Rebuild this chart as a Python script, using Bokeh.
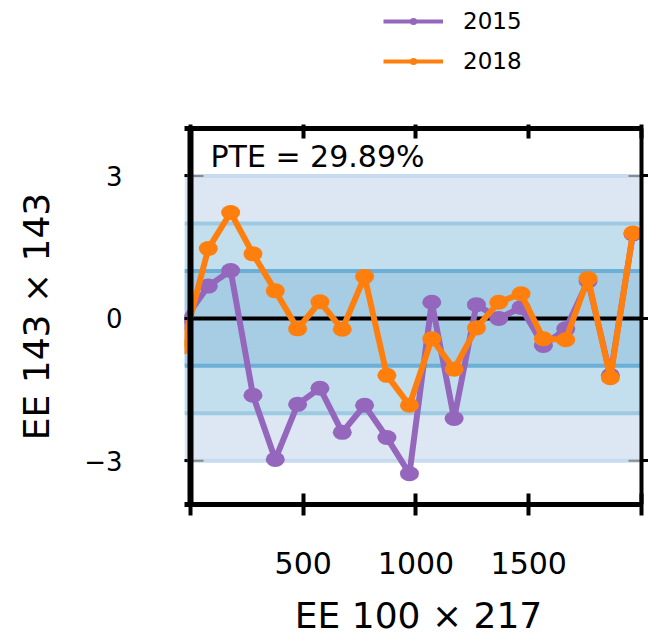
from bokeh.plotting import figure
from bokeh.layouts import column
from bokeh.models import (Range1d, LinearAxis, FixedTicker, Span, BoxAnnotation,
                          Label, Legend, LegendItem)
from bokeh.embed import file_html
from bokeh.resources import INLINE

# Binned multipoles and normalised residuals for the two releases
ell_bins = [-35, 79, 178, 277, 376, 475, 574, 673, 772, 871, 971,
            1070, 1169, 1268, 1367, 1466, 1565, 1664, 1763, 1862, 1962]
resid_2015 = [-0.08, 0.68, 1.01, -1.62, -2.97, -1.81, -1.47, -2.40, -1.83, -2.51, -3.27,
              0.34, -2.11, 0.29, 0.00, 0.23, -0.57, -0.22, 0.79, -1.20, 1.78]
resid_2018 = [-0.60, 1.47, 2.23, 1.36, 0.58, -0.22, 0.35, -0.23, 0.88, -1.20, -1.83,
              -0.43, -1.07, -0.20, 0.34, 0.52, -0.43, -0.45, 0.84, -1.25, 1.80]

series_names = ["2015", "2018"]
x_ticks = [0, 500, 1000, 1500, 2000]
x_tick_labels = {0: "", 500: "500", 1000: "1000", 1500: "1500", 2000: ""}
y_ticks = [-3, 0, 3]
y_tick_labels = {-3: "\u22123", 0: "0", 3: "3"}
sigma_levels = [3, 2, 1]
x_title = "EE 100 \u00d7 217"
y_title = "EE 143 \u00d7 143"
pte_text = "PTE = 29.89%"

PURPLE = "#9467bd"
ORANGE = "#ff7f0e"
BAND_FILL = {3: "#dce7f3", 2: "#c3dfee", 1: "#a6cde4"}
BAND_EDGE = {3: "#c6dbef", 2: "#9ecae1", 1: "#6baed6"}
FONT = "DejaVu Sans"

# page geometry (pixels): legend strip, main panel, x-title strip
W, H = 648, 636
LEG_H = 80
TITLE_H = 40
MAIN_H = H - LEG_H - TITLE_H
FL, FR, FT, FB = 184, 641, 128 - LEG_H, 504 - LEG_H   # frame edges in the main panel

x_range = Range1d(-26.6, 2000)
y_range = Range1d(-3.92, 4.0)
px_x = (FR - FL) / (x_range.end - x_range.start)
px_y = (FB - FT) / (y_range.end - y_range.start)


def data_x(sx):
    return x_range.start + (sx - FL) / px_x


def data_y(sy):
    return y_range.end - (sy - FT) / px_y


def strip(height):
    """Axis-free figure (screen-pixel coordinates) for the legend and the bottom title."""
    f = figure(width=W, height=height, x_range=Range1d(FL, FR), y_range=Range1d(0, height),
               output_backend="svg", toolbar_location=None,
               x_axis_location=None, y_axis_location=None,
               min_border_left=FL, min_border_right=W - FR,
               min_border_top=0, min_border_bottom=0)
    f.outline_line_color = None
    f.grid.visible = False
    return f


p = figure(width=W, height=MAIN_H, x_range=x_range, y_range=y_range,
           output_backend="svg", toolbar_location=None,
           min_border_left=FL, min_border_right=W - FR,
           min_border_top=FT, min_border_bottom=MAIN_H - FB)
p.outline_line_color = None
p.grid.visible = False
p.background_fill_color = "white"

# 1/2/3 sigma bands and their edges
for lvl in sigma_levels:
    p.add_layout(BoxAnnotation(bottom=-lvl, top=lvl, fill_color=BAND_FILL[lvl],
                               fill_alpha=1, line_color=None, level="underlay"))
for lvl in sigma_levels:
    for sign in (-1, 1):
        p.add_layout(Span(location=sign * lvl, dimension="width",
                          line_color=BAND_EDGE[lvl], line_width=4, level="underlay"))
p.add_layout(Span(location=0, dimension="width", line_color="black",
                  line_width=4, level="underlay"))

# short grey marks at the outer band edges
edge = [t for t in y_ticks if t != 0]
p.segment(x0=[x_range.start] * len(edge) + [data_x(628)] * len(edge),
          x1=[data_x(203)] * len(edge) + [x_range.end] * len(edge),
          y0=edge + edge, y1=edge + edge, line_color="#8a8a8a", line_width=2)

# residual curves
for vals, color in ((resid_2015, PURPLE), (resid_2018, ORANGE)):
    p.line(ell_bins, vals, line_color=color, line_width=6, line_join="round")
    p.ellipse(ell_bins, vals, width=19, height=15, width_units="screen",
              height_units="screen", fill_color=color, line_color=None)

# left spine at ell = 0
p.add_layout(Span(location=0, dimension="height", line_color="black", line_width=6))

# bottom axis
xa = p.xaxis[0]
xa.ticker = FixedTicker(ticks=x_ticks)
xa.major_label_overrides = x_tick_labels
xa.axis_line_width = 5
xa.major_tick_line_width = 4
xa.major_tick_in = 11
xa.major_tick_out = 11
xa.minor_tick_line_color = None
xa.major_label_text_font = FONT
xa.major_label_text_font_size = "30px"
xa.major_label_text_color = "black"
xa.major_label_standoff = 36

# left axis (spine drawn separately)
ya = p.yaxis[0]
ya.ticker = FixedTicker(ticks=y_ticks)
ya.major_label_overrides = y_tick_labels
ya.axis_line_color = None
ya.major_tick_in = 3
ya.major_tick_out = 0
ya.major_tick_line_width = 3
ya.minor_tick_line_color = None
ya.major_label_text_font = FONT
ya.major_label_text_font_size = "26px"
ya.major_label_text_color = "black"
ya.major_label_standoff = 62
ya.axis_label = y_title
ya.axis_label_text_font = FONT
ya.axis_label_text_font_size = "36px"
ya.axis_label_text_font_style = "normal"
ya.axis_label_text_color = "black"
ya.axis_label_standoff = 24

# right and top frame axes without labels
ra = LinearAxis(ticker=FixedTicker(ticks=y_ticks),
                major_label_overrides={t: "" for t in y_ticks},
                axis_line_width=4, major_tick_in=0, major_tick_out=7,
                major_tick_line_width=3, minor_tick_line_color=None,
                major_label_standoff=0, major_label_text_font_size="0px")
p.add_layout(ra, "right")
ta = LinearAxis(ticker=FixedTicker(ticks=x_ticks),
                major_label_overrides={t: "" for t in x_ticks},
                axis_line_width=5, major_tick_in=10, major_tick_out=4,
                major_tick_line_width=4, minor_tick_line_color=None,
                major_label_standoff=0, major_label_text_font_size="0px")
p.add_layout(ta, "above")

# PTE annotation
p.add_layout(Label(x=data_x(210), y=data_y(156 - LEG_H), text=pte_text, text_align="left",
                   text_baseline="middle", text_font=FONT, text_font_size="30px",
                   text_color="black"))

# legend strip: thin line with a small dot per release
lg = strip(LEG_H)
items = []
for name, color in zip(series_names, (PURPLE, ORANGE)):
    lr = lg.line([FL], [0], line_color=color, line_width=4, visible=False)
    sr = lg.scatter([FL], [0], size=7, fill_color=color, line_color=None, visible=False)
    items.append(LegendItem(label=name, renderers=[lr, sr]))
legend = Legend(items=items, location=(383 - FL, 6), orientation="vertical",
                glyph_width=60, glyph_height=18, label_height=18, label_standoff=20,
                spacing=14, padding=0, margin=0, border_line_color=None,
                background_fill_alpha=0, label_text_font=FONT,
                label_text_font_size="23px", label_text_color="black")
lg.add_layout(legend)

# bottom strip holding the x-axis title
xt = strip(TITLE_H)
xt.add_layout(Label(x=418, y=1, text=x_title, text_align="center",
                    text_baseline="bottom", text_font=FONT, text_font_size="36px",
                    text_color="black"))

page = column(lg, p, xt, spacing=0)
open("out.html", "w").write(file_html(page, INLINE))
